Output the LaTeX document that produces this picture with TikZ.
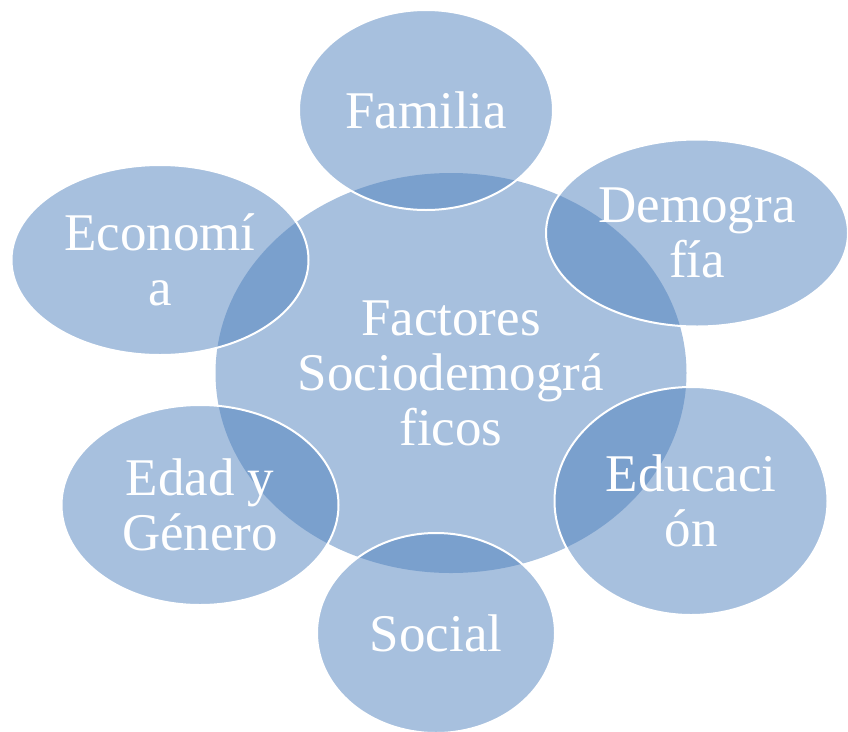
\documentclass[tikz,border=0pt]{standalone}
\usepackage{fontspec}
\setmainfont{Liberation Serif}
\usetikzlibrary{positioning, shapes.geometric}
\definecolor{azul}{RGB}{79,129,189}

\begin{document}
\begin{tikzpicture}[x=1pt, y=-1pt,
    burbuja/.style={ellipse, fill=azul, fill opacity=0.5, text opacity=1, text=white, inner sep=0pt, align=center, font=\fontsize{53}{55}\selectfont},
    borde/.style={burbuja, draw=white, line width=2pt}]
            \useasboundingbox (0,0) rectangle (848,731);
            \node[burbuja, minimum width=471, minimum height=400] (centro) at (451,373) {Factores\\Sociodemográ\\ficos};
            \node[borde, minimum width=254, minimum height=200] (familia) at (426,110) {Familia};
            \node[borde, minimum width=302, minimum height=187] (demografia) at (697,233) {Demogra\\fía};
            \node[borde, minimum width=273, minimum height=228] (educacion) at (691,501) {Educaci\\ón};
            \node[borde, minimum width=238, minimum height=200] (social) at (436,633) {Social};
            \node[borde, minimum width=277, minimum height=200] (edad) at (200,505) {Edad y\\Género};
            \node[borde, minimum width=297, minimum height=190] (economia) at (160,260) {Economí\\a};
        \end{tikzpicture}
\end{document}
